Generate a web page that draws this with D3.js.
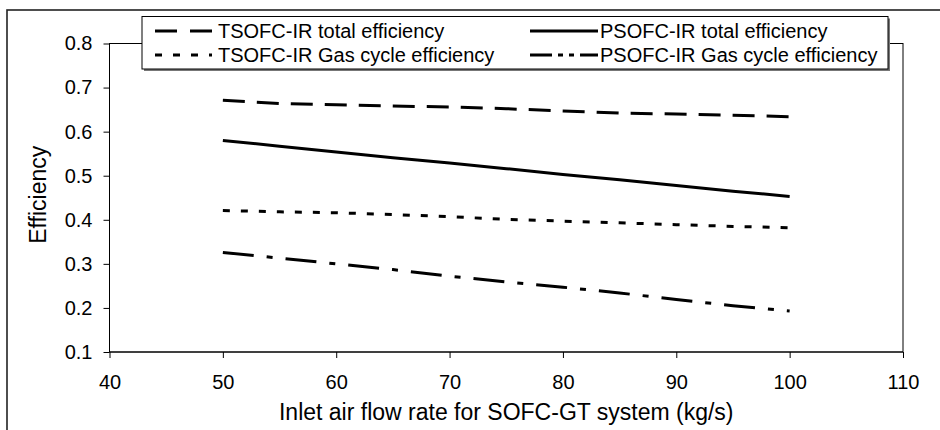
<!DOCTYPE html>
<html>
<head>
<meta charset="utf-8">
<script src="https://cdn.jsdelivr.net/npm/d3@7/dist/d3.min.js"></script>
<style>
  html, body { margin: 0; padding: 0; background: #fff; }
  svg { display: block; }
  text { font-family: "Liberation Sans", Arial, sans-serif; fill: #000; }
</style>
</head>
<body>
<svg id="chart" width="940" height="430"></svg>
<script>
// ---- data ----
const flowRates = [50, 55, 60, 65, 70, 75, 80, 85, 90, 95, 100];
const tsofcTotal = [0.671, 0.664, 0.661, 0.658, 0.656, 0.652, 0.647, 0.642, 0.640, 0.637, 0.634];
const psofcTotal = [0.580, 0.567, 0.554, 0.541, 0.529, 0.516, 0.503, 0.491, 0.478, 0.465, 0.453];
const tsofcGas   = [0.421, 0.418, 0.416, 0.412, 0.407, 0.401, 0.397, 0.393, 0.389, 0.385, 0.382];
const psofcGas   = [0.326, 0.313, 0.300, 0.287, 0.272, 0.259, 0.247, 0.234, 0.219, 0.205, 0.193];
const xTicks = [40, 50, 60, 70, 80, 90, 100, 110];
const yTicks = [0.1, 0.2, 0.3, 0.4, 0.5, 0.6, 0.7, 0.8];
const seriesNames = ["TSOFC-IR total efficiency", "PSOFC-IR total efficiency",
                     "TSOFC-IR Gas cycle efficiency", "PSOFC-IR Gas cycle efficiency"];
const xTitle = "Inlet air flow rate for SOFC-GT system (kg/s)";
const yTitle = "Efficiency";

// ---- styles ----
const dashes = ["22,12", null, "7,11", "31,13,6,13"];
const legendDashes = ["22,13", null, "7,11", "22,6,5,6,5,6,22"];
const seriesValues = [tsofcTotal, psofcTotal, tsofcGas, psofcGas];

const svg = d3.select("#chart");
const L = 109.5, R = 903, T = 43.5, B = 352;

// outer frame
svg.append("rect").attr("x", 7).attr("y", 10).attr("width", 945).attr("height", 440)
  .attr("fill", "none").attr("stroke", "#222").attr("stroke-width", 1.6);

const x = d3.scaleLinear().domain([40, 110]).range([L, R]);
const y = d3.scaleLinear().domain([0.1, 0.8]).range([B, T]);

// plot border
svg.append("rect").attr("x", L).attr("y", T).attr("width", R - L).attr("height", B - T)
  .attr("fill", "none").attr("stroke", "#000").attr("stroke-width", 1);

const xAxis = svg.append("g").attr("transform", `translate(0,${B})`)
  .call(d3.axisBottom(x).tickValues(xTicks).tickFormat(d3.format("d")).tickSize(6).tickPadding(17));
const yAxis = svg.append("g").attr("transform", `translate(${L},0)`)
  .call(d3.axisLeft(y).tickValues(yTicks).tickFormat(d3.format(".1f")).tickSize(6).tickPadding(11));
[xAxis, yAxis].forEach(g => {
  g.selectAll("path,line").attr("stroke", "#000").attr("stroke-width", 1);
  g.selectAll("text").style("font-size", "20px").attr("fill", "#000")
    .style("font-family", '"Liberation Sans", Arial, sans-serif');
});
yAxis.select(".domain").attr("d", `M0,${B}V${T}`);
xAxis.select(".domain").attr("d", `M${L},0H${R}`);

// titles
svg.append("text").attr("x", (L + R) / 2 + 0).attr("y", 420).attr("text-anchor", "middle")
  .style("font-size", "23px").text(xTitle);
svg.append("text").attr("transform", `translate(46,${(T + B) / 2 - 3}) rotate(-90)`)
  .attr("text-anchor", "middle").style("font-size", "23px").text(yTitle);

// lines
const line = d3.line().x((d, i) => x(flowRates[i])).y(d => y(d));
seriesValues.forEach((vals, k) => {
  svg.append("path").datum(vals).attr("d", line)
    .attr("fill", "none").attr("stroke", "#000").attr("stroke-width", 3)
    .attr("stroke-dasharray", dashes[k]);
});

// legend
const lg = svg.append("g");
const lx = 142, ly = 16.5, lw = 746, lh = 52.5;
lg.append("rect").attr("x", lx + 2).attr("y", ly + 2).attr("width", lw).attr("height", lh).attr("fill", "#777");
lg.append("rect").attr("x", lx).attr("y", ly).attr("width", lw).attr("height", lh)
  .attr("fill", "#fff").attr("stroke", "#000").attr("stroke-width", 1);
const cols = [{s: 155, e: 212, t: 218}, {s: 530, e: 598, t: 600}];
const rows = [{ly: 31, ty: 37.5}, {ly: 55, ty: 61.5}];
seriesNames.forEach((name, k) => {
  const c = cols[k % 2], r = rows[Math.floor(k / 2)];
  lg.append("line").attr("x1", c.s).attr("x2", c.e).attr("y1", r.ly).attr("y2", r.ly)
    .attr("stroke", "#000").attr("stroke-width", 3).attr("stroke-dasharray", legendDashes[k]);
  lg.append("text").attr("x", c.t).attr("y", r.ty).style("font-size", "20px").text(name);
});
</script>
</body>
</html>
